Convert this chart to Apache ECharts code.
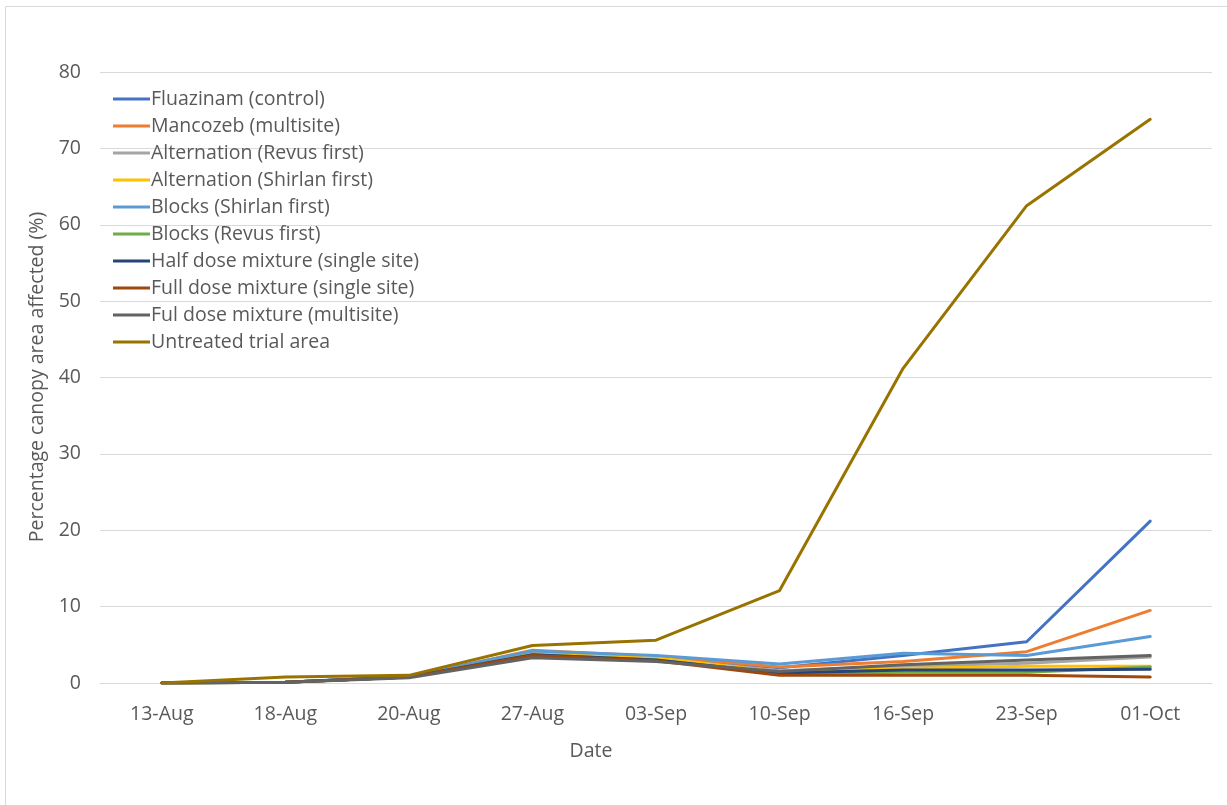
<!DOCTYPE html>
<html>
<head>
<meta charset="utf-8">
<script src="https://cdn.jsdelivr.net/npm/echarts@6/dist/echarts.min.js"></script>
<style>
  html, body { margin: 0; padding: 0; background: #fff; }
  #chart { width: 1227px; height: 805px; }
</style>
</head>
<body>
<div id="chart"></div>
<script>
// dates on the x axis
const dates = ['13-Aug', '18-Aug', '20-Aug', '27-Aug', '03-Sep', '10-Sep', '16-Sep', '23-Sep', '01-Oct'];

// % canopy area affected
const fluazinam = [0, 0.1, 0.8, 4.0, 3.3, 2.0, 3.6, 5.4, 21.2];
const mancozeb = [0, 0.1, 0.8, 4.3, 3.5, 2.1, 2.8, 4.1, 9.5];
const altRevus = [0, 0.1, 0.8, 3.8, 3.2, 1.6, 2.2, 2.6, 3.4];
const altShirlan = [0, 0.1, 0.8, 3.9, 3.3, 1.4, 1.9, 2.2, 2.2];
const blocksShirlan = [0, 0.1, 0.9, 4.2, 3.6, 2.5, 3.9, 3.6, 6.1];
const blocksRevus = [0, 0.1, 0.8, 3.7, 3.0, 1.2, 1.4, 1.4, 2.1];
const halfDose = [0, 0.1, 0.8, 3.7, 3.0, 1.3, 1.7, 1.7, 1.8];
const fullDoseSingle = [0, 0.1, 0.8, 3.6, 2.9, 1.0, 1.0, 1.0, 0.8];
const fullDoseMulti = [0, 0.1, 0.7, 3.3, 2.8, 1.5, 2.4, 3.0, 3.6];
const untreated = [0, 0.8, 1.0, 4.9, 5.6, 12.1, 41.2, 62.5, 73.8];

const yTicks = [0, 10, 20, 30, 40, 50, 60, 70, 80];

const seriesDefs = [
    ['Fluazinam (control)', fluazinam, '#4472C4'],
    ['Mancozeb (multisite)', mancozeb, '#ED7D31'],
    ['Alternation (Revus first)', altRevus, '#A5A5A5'],
    ['Alternation (Shirlan first)', altShirlan, '#FFC000'],
    ['Blocks (Shirlan first)', blocksShirlan, '#5B9BD5'],
    ['Blocks (Revus first)', blocksRevus, '#70AD47'],
    ['Half dose mixture (single site)', halfDose, '#264478'],
    ['Full dose mixture (single site)', fullDoseSingle, '#9E480E'],
    ['Ful dose mixture (multisite)', fullDoseMulti, '#636363'],
    ['Untreated trial area', untreated, '#997300']
];

const chart = echarts.init(document.getElementById('chart'));
const font = '"Open Sans", "Noto Sans", sans-serif';

const option = {
    animation: false,
    textStyle: { fontFamily: font },
    grid: {
        left: 100,
        right: 15,
        top: 72,
        bottom: 122,
        containLabel: false
    },
    legend: {
        orient: 'vertical',
        left: 113,
        top: 88,
        padding: 0,
        icon: 'rect',
        itemWidth: 37,
        itemHeight: 3,
        itemGap: 5,
        textStyle: {
            color: '#595959',
            fontSize: 19.5,
            fontFamily: font,
            lineHeight: 22,
            padding: [0, 0, 0, -4]
        },
        data: seriesDefs.map(d => d[0])
    },
    xAxis: {
        type: 'category',
        data: dates,
        boundaryGap: true,
        axisLine: { lineStyle: { color: '#d9d9d9', width: 1 } },
        axisTick: { show: false },
        axisLabel: {
            color: '#595959',
            fontSize: 19.5,
            margin: 21,
            interval: 0
        }
    },
    yAxis: {
        type: 'value',
        min: yTicks[0],
        max: yTicks[yTicks.length - 1],
        interval: 10,
        axisLine: { show: false },
        axisTick: { show: false },
        axisLabel: {
            color: '#595959',
            fontSize: 19.5,
            margin: 19
        },
        splitLine: { lineStyle: { color: '#d9d9d9', width: 1 } }
    },
    graphic: [
        {
            type: 'rect',
            shape: { x: 5.5, y: 6.5, width: 1260, height: 840 },
            style: { fill: 'none', stroke: '#d9d9d9', lineWidth: 1 },
            silent: true
        },
        {
            type: 'text',
            x: 37,
            y: 377,
            rotation: Math.PI / 2,
            style: {
                text: 'Percentage canopy area affected (%)',
                fill: '#595959',
                font: '19.5px ' + font,
                align: 'center',
                verticalAlign: 'middle'
            }
        },
        {
            type: 'text',
            x: 591,
            y: 751,
            style: {
                text: 'Date',
                fill: '#595959',
                font: '19.5px ' + font,
                align: 'center',
                verticalAlign: 'middle'
            }
        }
    ],
    series: seriesDefs.map(([name, data, color]) => ({
        name: name,
        type: 'line',
        data: data,
        symbol: 'none',
        color: color,
        lineStyle: { width: 3, color: color, cap: 'round', join: 'round' },
        emphasis: { disabled: true }
    }))
};

chart.setOption(option);
</script>
</body>
</html>
